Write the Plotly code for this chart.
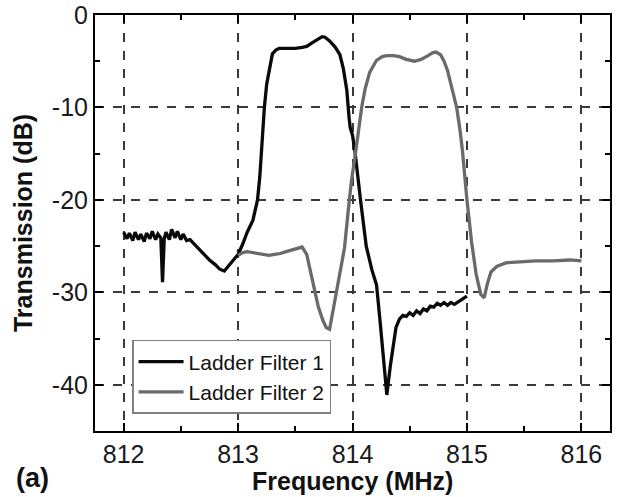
import plotly.graph_objects as go

# ---- data ----
f1_freq = [812.00, 812.03, 812.05, 812.08, 812.10, 812.13, 812.15, 812.18, 812.20, 812.23,
           812.25, 812.28, 812.30, 812.325, 812.34, 812.355, 812.37, 812.40, 812.42, 812.45,
           812.47, 812.50, 812.52, 812.55, 812.58, 812.62, 812.66, 812.70, 812.75, 812.80,
           812.84, 812.88, 812.92, 812.96, 813.00, 813.04, 813.08, 813.13, 813.17, 813.19,
           813.205, 813.23, 813.25, 813.275, 813.30, 813.33, 813.36, 813.42, 813.50, 813.56,
           813.60, 813.65, 813.70, 813.735, 813.76, 813.80, 813.85, 813.89, 813.92, 813.95,
           813.97, 813.98, 814.00, 814.02, 814.07, 814.12, 814.17, 814.21, 814.24, 814.27,
           814.30, 814.33, 814.36, 814.38, 814.41, 814.44, 814.47, 814.50, 814.53, 814.56,
           814.59, 814.62, 814.65, 814.68, 814.71, 814.74, 814.77, 814.80, 814.83, 814.86,
           814.89, 814.93, 814.96, 815.00]
f1_db = [-23.5, -24.2, -23.6, -24.4, -23.5, -24.3, -23.7, -24.5, -23.6, -24.2,
         -23.4, -24.3, -23.7, -24.1, -28.9, -24.2, -23.5, -24.3, -23.2, -24.1,
         -23.4, -24.3, -23.7, -24.4, -24.3, -24.8, -25.4, -25.9, -26.5, -27.0,
         -27.5, -27.7, -27.1, -26.5, -25.9, -24.8, -23.5, -22.2, -20.0, -17.5,
         -14.6, -10.0, -7.5, -5.6, -4.2, -3.8, -3.6, -3.6, -3.6, -3.5,
         -3.4, -3.0, -2.6, -2.35, -2.4, -2.8, -3.5, -4.3, -5.8, -8.1,
         -11.1, -12.2, -13.0, -14.6, -20.0, -25.0, -27.6, -29.2, -33.0, -37.5,
         -41.1, -38.0, -35.2, -33.8, -32.9, -32.5, -32.6, -32.2, -32.5, -32.0,
         -32.3, -31.8, -32.0, -31.5, -31.6, -31.2, -31.4, -31.1, -31.4, -31.1,
         -31.3, -31.0, -30.8, -30.4]

f2_freq = [813.00, 813.04, 813.08, 813.12, 813.17, 813.22, 813.27, 813.32, 813.37, 813.42,
           813.47, 813.52, 813.56, 813.60, 813.63, 813.66, 813.70, 813.74, 813.77, 813.80,
           813.83, 813.86, 813.90, 813.93, 813.96, 813.99, 814.03, 814.06, 814.08, 814.11,
           814.15, 814.21, 814.26, 814.30, 814.36, 814.41, 814.47, 814.54, 814.60, 814.66,
           814.70, 814.73, 814.77, 814.80, 814.83, 814.85, 814.88, 814.91, 814.94, 814.96,
           815.00, 815.04, 815.08, 815.12, 815.15, 815.18, 815.21, 815.26, 815.345, 815.46,
           815.60, 815.75, 815.90, 816.00]
f2_db = [-26.0, -25.7, -25.6, -25.7, -25.8, -25.9, -26.0, -25.9, -25.8, -25.6,
         -25.4, -25.2, -25.1, -25.9, -27.5, -29.4, -31.5, -33.0, -33.8, -34.0,
         -32.0, -29.6, -27.2, -25.2, -21.5, -18.0, -14.6, -11.8, -10.0, -8.0,
         -6.2, -4.9, -4.5, -4.4, -4.4, -4.5, -4.8, -5.0, -4.8, -4.4,
         -4.1, -4.0, -4.3, -5.0, -6.0, -7.0, -8.5, -10.0, -12.5, -14.6,
         -20.0, -24.5, -28.0, -30.2, -30.6, -29.0, -27.8, -27.2, -26.8, -26.7,
         -26.6, -26.6, -26.5, -26.6]

series_names = ["Ladder Filter 1", "Ladder Filter 2"]
x_ticks = [812, 813, 814, 815, 816]
x_ticktext = ["812", "813", "814", "815", "816"]
y_ticks = [0, -10, -20, -30, -40]
y_ticktext = ["0", "-10", "-20", "-30", "-40"]

FONT = "Liberation Sans, Arial, sans-serif"

fig = go.Figure()
fig.add_trace(go.Scatter(x=f1_freq, y=f1_db, mode="lines", name=series_names[0],
                         line=dict(color="#0a0a0a", width=3.3)))
fig.add_trace(go.Scatter(x=f2_freq, y=f2_db, mode="lines", name=series_names[1],
                         line=dict(color="#6a6a6a", width=3.3)))

axis_common = dict(
    showline=True, linecolor="black", linewidth=2, mirror="ticks",
    ticks="inside", ticklen=8, tickwidth=2, tickcolor="black",
    showgrid=True, gridcolor="#3a3a3a", gridwidth=1.5, griddash="dash",
    zeroline=False, automargin=False, ticklabeloverflow="allow",
    tickfont=dict(family=FONT, size=25, color="#1a1a1a"),
)

fig.update_xaxes(
    **axis_common,
    range=[811.75, 816.25],
    tickvals=x_ticks, ticktext=x_ticktext,
    minor=dict(dtick=0.5, tick0=812, ticks="inside", ticklen=5, tickwidth=2,
               tickcolor="black", showgrid=False),
)
fig.update_yaxes(
    **axis_common,
    range=[-45, 0],
    tickvals=y_ticks, ticktext=y_ticktext,
    minor=dict(dtick=5, tick0=0, ticks="inside", ticklen=5, tickwidth=2,
               tickcolor="black", showgrid=False),
    title=dict(text="<b>Transmission (dB)</b>", font=dict(family=FONT, size=25, color="#111"),
               standoff=12),
)

# x-axis title placed as an annotation for exact vertical position
fig.add_annotation(text="<b>Frequency (MHz)</b>", xref="paper", yref="paper", x=0.5, y=-0.12,
                   xanchor="center", yanchor="middle", showarrow=False,
                   font=dict(family=FONT, size=25, color="#111"))
fig.add_annotation(text="<b>(a)</b>", xref="paper", yref="paper", x=-0.158, y=-0.113,
                   xanchor="left", yanchor="middle", showarrow=False,
                   font=dict(family=FONT, size=27, color="#111"))

fig.update_layout(
    width=621, height=497,
    margin=dict(l=95, r=11, t=15, b=66, autoexpand=False),
    paper_bgcolor="white", plot_bgcolor="white",
    showlegend=True,
    legend=dict(x=0.072, y=0.219, xanchor="left", yanchor="top",
                bgcolor="white", bordercolor="#808080", borderwidth=1.5,
                font=dict(family=FONT, size=21, color="#111"),
                itemwidth=45, tracegroupgap=0),
)

fig.write_html("out.html", config={"displayModeBar": False},
               post_script="document.body.style.margin='0';")
